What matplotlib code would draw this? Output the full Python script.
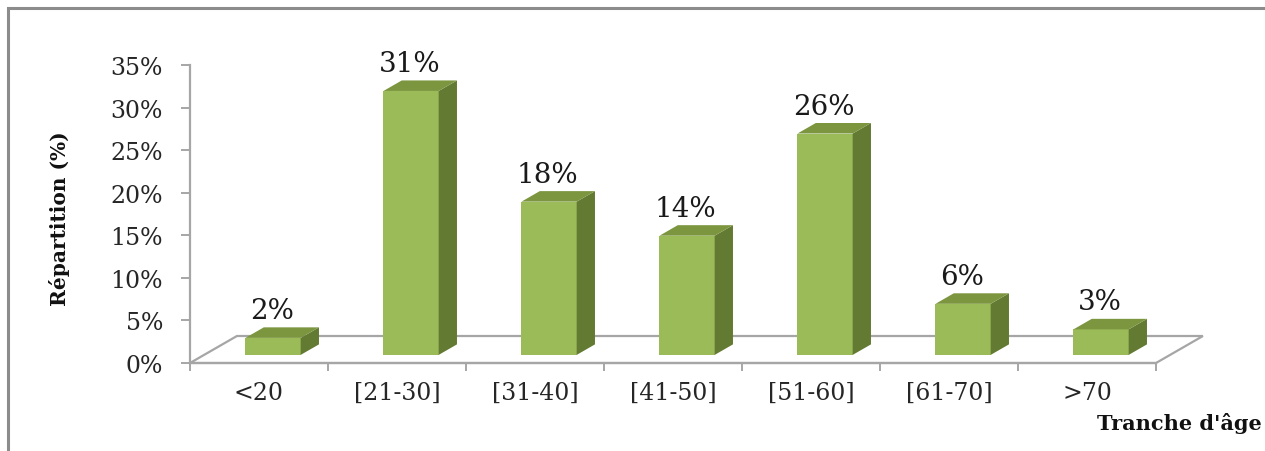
import matplotlib
matplotlib.use("Agg")
import matplotlib.pyplot as plt
from matplotlib.patches import Polygon, Rectangle
from matplotlib.ticker import FixedLocator, FuncFormatter

# Age brackets and their share of respondents (%)
categories = ["<20", "[21-30]", "[31-40]", "[41-50]", "[51-60]", "[61-70]", ">70"]
shares = [2, 31, 18, 14, 26, 6, 3]
y_ticks = [0, 5, 10, 15, 20, 25, 30, 35]

# Colours of the pseudo-3D columns
FRONT = "#9BBB59"
SIDE = "#637A33"
TOP = "#7B963F"
GRID = "#A6A6A6"

# Pseudo-3D geometry (data units)
FLOOR_DX = 0.34      # horizontal shift of the back edge of the floor
FLOOR_DY = 3.17      # vertical shift of the back edge of the floor
BAR_FRONT = 0.30     # depth fraction where the column front sits
BAR_DEPTH = 0.39     # depth fraction occupied by a column
BAR_W = 0.40

W, H = 1265, 452
fig = plt.figure(figsize=(W / 100, H / 100), dpi=100)
fig.patch.set_facecolor("white")

# outer frame (top and left edges visible)
fig.add_artist(Rectangle((8 / W, -0.1), 1.2, 1 - 9 / H + 0.1, transform=fig.transFigure,
                         fill=False, edgecolor="#8C8C8C", linewidth=2.2))

left, right, bottom, top = 190, 1204, 364, 66
ax = fig.add_axes([left / W, 1 - bottom / H, (right - left) / W, (bottom - top) / H])
n = len(categories)
ax.set_xlim(-0.5, -0.5 + (right - left) / 138)
ax.set_ylim(0, 35)
ax.set_facecolor("none")

for s in ["top", "right"]:
    ax.spines[s].set_visible(False)
for s in ["left", "bottom"]:
    ax.spines[s].set_color(GRID)
    ax.spines[s].set_linewidth(1.6)
ax.spines["bottom"].set_bounds(-0.5, n - 0.5)

serif = "DejaVu Serif"
ax.yaxis.set_major_locator(FixedLocator(y_ticks))
ax.yaxis.set_major_formatter(FuncFormatter(lambda v, p: f"{v:.0f}%"))
ax.tick_params(axis="y", direction="out", length=6.5, width=1.4, color=GRID,
               pad=13, labelsize=17, labelcolor="#262626")
for lab in ax.get_yticklabels():
    lab.set_family(serif)

ax.xaxis.set_major_locator(FixedLocator([i - 0.5 for i in range(n + 1)]))
ax.xaxis.set_major_formatter(FuncFormatter(lambda v, p: ""))
ax.xaxis.set_minor_locator(FixedLocator(list(range(n))))
ax.set_xticks(list(range(n)), categories, minor=True)
ax.tick_params(axis="x", which="major", direction="out", length=5.5, width=1.4, color=GRID)
ax.tick_params(axis="x", which="minor", length=0, pad=13, labelsize=17, labelcolor="#262626")
for lab in ax.get_xticklabels(minor=True):
    lab.set_family(serif)

# floor outline
floor = [(-0.5, 0), (n - 0.5, 0), (n - 0.5 + FLOOR_DX, FLOOR_DY), (-0.5 + FLOOR_DX, FLOOR_DY)]
ax.add_patch(Polygon(floor, closed=True, fill=False, edgecolor=GRID, linewidth=1.6,
                     clip_on=False, zorder=1))

# columns
base = BAR_FRONT * FLOOR_DY
shift = BAR_FRONT * FLOOR_DX
ddx = BAR_DEPTH * FLOOR_DX
ddy = BAR_DEPTH * FLOOR_DY
xs = [i + shift for i in range(n)]
bars = ax.bar(xs, shares, width=BAR_W, bottom=base, color=FRONT, linewidth=0,
              zorder=3, clip_on=False)
for rect, v in zip(bars, shares):
    xl = rect.get_x()
    xr = xl + rect.get_width()
    b = rect.get_y()
    t = b + rect.get_height()
    ax.add_patch(Polygon([(xr, b), (xr + ddx, b + ddy), (xr + ddx, t + ddy), (xr, t)],
                         closed=True, facecolor=SIDE, linewidth=0, zorder=3, clip_on=False))
    ax.add_patch(Polygon([(xl, t), (xr, t), (xr + ddx, t + ddy), (xl + ddx, t + ddy)],
                         closed=True, facecolor=TOP, linewidth=0, zorder=3, clip_on=False))
    ax.text(xl + rect.get_width() / 2 - 0.01, t + ddy + 0.4, f"{v}%", ha="center", va="bottom",
            fontsize=20, family=serif, color="#1A1A1A", zorder=4, clip_on=False)

ax.set_ylabel("Répartition (%)", family=serif, fontweight="bold", fontsize=14.5,
              color="#111111")
ax.yaxis.set_label_coords(-0.118, 0.487)
fig.text(1262 / W, 1 - 430 / H, "Tranche d'âge", ha="right", va="baseline",
         family=serif, fontweight="bold", fontsize=15, color="#111111")

fig.savefig("out.png", dpi=100)
